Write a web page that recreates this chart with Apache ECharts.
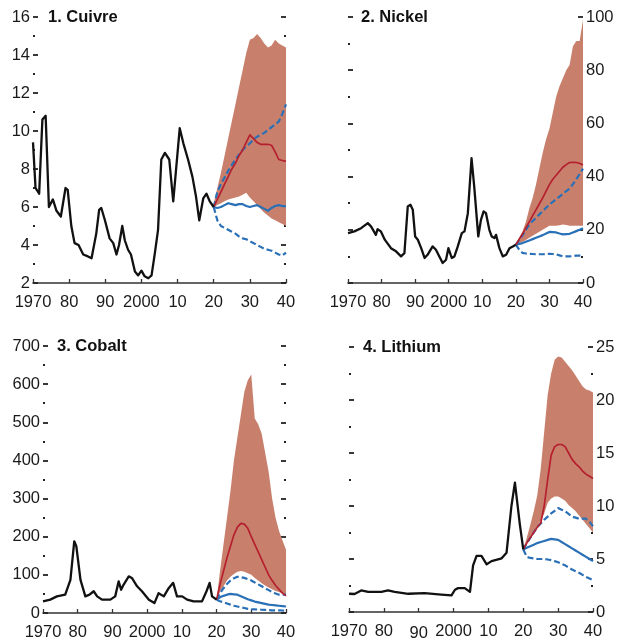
<!DOCTYPE html>
<html><head><meta charset="utf-8">
<script src="https://cdn.jsdelivr.net/npm/echarts@6/dist/echarts.min.js"></script>
<style>html,body{margin:0;padding:0;background:#fff}#c{width:618px;height:642px}</style>
</head><body><div id="c"></div>
<script>
// ---------- DATA ----------
const xTicks = [1970, 1980, 1990, 2000, 2010, 2020, 2030, 2040];
const xTickLabels = ['1970', '80', '90', '2000', '10', '20', '30', '40'];
const titles = ['1. Cuivre', '2. Nickel', '3. Cobalt', '4. Lithium'];
const projYears = [2020,2021,2022,2023,2024,2025,2026,2027,2028,2029,2030,2031,2032,2033,2034,2035,2036,2037,2038,2039,2040];

// Copper (Cuivre)
const copperYears = [1970,1970.7,1971.7,1972.6,1973.5,1974.4,1975.5,1976.5,1977.7,1979.0,1979.6,1980.6,1981.5,1982.6,1983.9,1985.2,1986.2,1987.5,1988.3,1988.9,1989.9,1991.2,1992.2,1993.1,1993.8,1994.7,1995.4,1996.3,1997.1,1998.2,1999.1,2000.0,2000.9,2001.9,2002.8,2003.7,2004.6,2005.5,2006.5,2007.7,2008.8,2009.5,2010.6,2011.6,2012.9,2014.1,2015.1,2016.0,2017.1,2018.0,2018.9,2020];
const copperHist = [9.4,7.0,6.7,10.6,10.8,6.0,6.4,5.8,5.5,7.0,6.9,5.0,4.1,4.0,3.5,3.4,3.3,4.6,5.85,5.95,5.3,4.35,4.1,3.5,4.0,5.0,4.25,3.75,3.5,2.6,2.4,2.65,2.35,2.25,2.4,3.55,4.8,8.5,8.85,8.5,6.3,7.8,10.15,9.35,8.5,7.6,6.55,5.3,6.45,6.7,6.3,6.0];
const copperBandLow  = [6.0,6.1,6.2,6.3,6.4,6.45,6.5,6.55,6.65,6.75,6.5,6.3,6.1,5.9,5.7,5.55,5.4,5.3,5.2,5.1,5.0];
const copperBandHigh = [6.2,7.0,7.8,8.7,9.6,10.5,11.4,12.3,13.2,14.1,14.8,14.9,15.1,14.9,14.6,14.4,14.5,14.8,14.6,14.5,14.4];
const copperRed      = [6.0,6.4,6.8,7.2,7.6,8.0,8.3,8.7,9.0,9.4,9.8,9.6,9.4,9.3,9.3,9.3,9.25,8.9,8.5,8.45,8.4];
const copperBlue     = [6.0,5.95,6.0,6.1,6.2,6.15,6.1,6.15,6.15,6.05,6.0,6.05,6.1,6.0,5.9,5.8,5.95,6.05,6.1,6.05,6.05];
const copperBlueHigh = [6.0,6.8,7.2,7.55,7.9,8.2,8.5,8.75,9.0,9.2,9.35,9.55,9.7,9.8,9.9,10.05,10.2,10.35,10.5,10.9,11.4];
const copperBlueLow  = [6.0,5.3,5.0,4.9,4.8,4.7,4.6,4.45,4.35,4.3,4.2,4.1,4.0,3.9,3.8,3.75,3.7,3.6,3.5,3.45,3.6];

// Nickel
const nickelYears = [1970,1971.9,1973.9,1975.9,1976.9,1978.3,1978.8,1979.8,1981.0,1982.8,1984.3,1985.8,1986.8,1987.8,1988.6,1989.3,1990.0,1990.8,1991.8,1992.8,1993.7,1995.2,1996.2,1997.2,1998.2,1999.2,1999.9,2000.9,2001.7,2002.7,2003.9,2004.7,2005.7,2006.8,2007.6,2008.8,2009.6,2010.4,2011.1,2012.1,2012.8,2013.6,2014.1,2015.1,2016.1,2017.1,2018.1,2019.1,2020];
const nickelHist = [18.75,19.4,20.6,22.5,21.2,18.1,20.2,19.4,16.2,13.1,11.9,10.0,11.2,28.75,29.4,27.5,17.5,16.25,13.1,9.4,10.6,13.75,12.5,10.0,7.5,8.75,13.1,9.4,10.0,13.75,18.75,19.4,26.25,46.9,36.25,17.5,23.75,26.9,26.25,20.0,17.5,16.9,18.1,13.1,10.0,10.6,13.1,13.75,14.4];
const nickelBandLow  = [14.4,15.0,15.5,16.2,17.0,17.8,18.5,19.3,20.0,20.8,21.5,21.5,21.5,21.7,22.0,21.8,21.5,21.5,21.5,21.5,21.5];
const nickelBandHigh = [14.4,17,19.5,23,28,32,37,43,49,54,58,64,70,74,77,80,82,89,91,91,99];
const nickelRed      = [14.4,16.5,18.5,20.8,23.0,25.3,27.5,29.8,32.0,34.5,37.0,39.0,40.5,42.0,43.5,44.5,45.3,45.4,45.3,45.0,44.4];
const nickelBlue     = [14.4,14.7,15.0,15.5,16.0,16.5,17.0,17.5,18.0,18.6,19.2,19.1,19.0,18.6,18.3,18.4,18.5,19.0,19.5,20.0,20.6];
const nickelBlueHigh = [14.4,16.2,18.0,20.0,22.0,23.3,24.5,25.8,27.0,28.3,29.5,30.5,31.5,32.5,33.5,34.5,35.5,37.2,39.0,41.0,43.0];
const nickelBlueLow  = [14.4,12.5,11.3,11.1,11.0,10.9,10.8,10.8,10.8,10.9,11.0,10.9,10.8,10.4,10.0,10.0,10.0,10.1,10.3,10.3,10.2];

// Cobalt
const cobaltYears = [1970,1972.1,1974.0,1976.4,1977.9,1979.0,1979.6,1980.8,1982.2,1983.4,1984.6,1985.6,1987.0,1989.4,1990.8,1991.8,1992.5,1993.2,1994.7,1995.6,1997.1,1998.5,2000.5,2002.1,2003.3,2004.8,2006.2,2007.5,2008.6,2010.1,2011.5,2013.4,2015.8,2017.1,2018.0,2018.7,2020];
const cobaltHist = [30.5,35,43.6,48,87,188,175,87,43.6,48,57,43.6,35,35,43.6,83,61,74,96,92,70,57,35,26,52,43.6,65,79,43.6,43.6,35,30.5,30.5,57,79,43.6,35];
const cobaltBandLow  = [35,55,70,85,95,102,108,110,108,104,100,92,85,78,72,67,62,58,55,51,48];
const cobaltBandHigh = [35,110,180,250,320,400,460,520,580,610,625,510,495,470,420,370,300,250,215,190,166];
const cobaltRed      = [35,75,110,145,175,205,225,235,233,222,200,180,160,140,120,100,85,72,62,52,45];
const cobaltBlue     = [35,41,45,48,50,49,48,44,40,36,33,30,28,26,24,22,21,20,19,18,17];
const cobaltBlueHigh = [35,52,65,76,85,91,95,94,92,89,85,80,75,70,65,60,55,51,48,48,48];
const cobaltBlueLow  = [35,31,28,25,22,19,17,15,13,11,10,9.5,9,8.5,8,7.5,7,7,7,6.5,6];

// Lithium
const lithiumYears = [1970,1971.6,1973.5,1975.5,1979.3,1981.2,1983.1,1987.0,1991.7,1996.5,1999.4,2000.4,2001.3,2003.2,2004.7,2005.6,2006.6,2008.0,2009.5,2010.9,2013.8,2015.2,2016.6,2017.6,2019.0,2020];
const lithiumHist = [1.72,1.7,2.03,1.9,1.9,2.03,1.9,1.72,1.78,1.63,1.56,2.1,2.25,2.25,1.9,4.4,5.3,5.3,4.5,4.8,5.06,5.6,10.0,12.2,8.3,5.9];
const lithiumBandLow  = [5.9,6.5,7.0,7.6,8.1,8.6,9.3,10.3,10.7,10.9,10.9,10.7,10.5,10.1,9.8,9.5,9.1,8.7,8.3,7.9,7.5];
const lithiumBandHigh = [5.9,7.0,8.2,9.5,11.0,13.5,17.0,20.5,22.5,23.8,24.1,24.0,23.6,23.2,22.8,22.3,21.8,21.3,21.0,20.9,20.7];
const lithiumRed      = [5.9,6.5,7.0,7.5,8.0,8.4,10.0,12.5,14.8,15.6,15.8,15.8,15.6,15.0,14.4,14.0,13.7,13.3,13.0,12.8,12.6];
const lithiumBlue     = [5.9,6.05,6.2,6.35,6.5,6.6,6.7,6.8,6.9,6.85,6.8,6.6,6.4,6.2,6.0,5.8,5.6,5.4,5.2,5.0,4.8];
const lithiumBlueHigh = [5.9,6.5,7.0,7.5,8.0,8.35,8.7,9.0,9.3,9.55,9.8,9.65,9.5,9.25,9.0,8.9,8.8,8.8,8.8,8.5,8.1];
const lithiumBlueLow  = [5.9,5.2,5.1,5.05,5.0,5.0,5.0,4.95,4.9,4.8,4.7,4.55,4.4,4.2,4.0,3.85,3.7,3.5,3.3,3.15,3.0];

// Y axis ranges (min, max, interval)
const yMins = [2, 0, 0, 0];
const yMaxs = [16, 100, 700, 25];
const yIntervals = [2, 20, 100, 5];

// ---------- STYLE ----------
const FONT = "'Liberation Sans', Arial, sans-serif";
const FS = 16.5;
const TXT = '#1a1a1a';
const AX = '#333';
const BAND = '#c8806d';
const RED = '#b51f2e';
const BLUE = '#2a70b6';
const BLACK = '#111';

const grids = [
  {left: 33, top: 17, width: 253, height: 266},
  {left: 348, top: 17, width: 235, height: 266},
  {left: 43, top: 346, width: 243, height: 267},
  {left: 349, top: 347, width: 244, height: 266}
];
const labelSide = ['left', 'right', 'left', 'right'];
const titlePos = [48, 361, 57, 363];

const panels = [
  {years: copperYears, hist: copperHist, low: copperBandLow, high: copperBandHigh, red: copperRed, blue: copperBlue, bh: copperBlueHigh, bl: copperBlueLow},
  {years: nickelYears, hist: nickelHist, low: nickelBandLow, high: nickelBandHigh, red: nickelRed, blue: nickelBlue, bh: nickelBlueHigh, bl: nickelBlueLow},
  {years: cobaltYears, hist: cobaltHist, low: cobaltBandLow, high: cobaltBandHigh, red: cobaltRed, blue: cobaltBlue, bh: cobaltBlueHigh, bl: cobaltBlueLow},
  {years: lithiumYears, hist: lithiumHist, low: lithiumBandLow, high: lithiumBandHigh, red: lithiumRed, blue: lithiumBlue, bh: lithiumBlueHigh, bl: lithiumBlueLow}
];

const xAxes = [], yAxes = [], series = [], titleOpts = [];
const zip = (xs, ys) => xs.map((x, k) => [x, ys[k]]);

panels.forEach((p, i) => {
  xAxes.push({
    type: 'value', gridIndex: i, min: 1970, max: 2040, interval: 10,
    axisLine: {show: true, lineStyle: {color: AX, width: 1.6}},
    axisTick: {show: true, inside: true, length: 4, lineStyle: {color: AX, width: 1.3}},
    splitLine: {show: false},
    axisLabel: {
      margin: 10, color: TXT, fontFamily: FONT, fontSize: FS, lineHeight: 18,
      showMinLabel: true, showMaxLabel: true, hideOverlap: false,
      formatter: v => {
        const t = xTickLabels[xTicks.indexOf(v)];
        return (i === 3 && v === 1990) ? '{low|' + t + '}' : t;
      },
      rich: {low: {fontFamily: FONT, fontSize: FS, color: TXT, lineHeight: 18, padding: [5, 0, 0, 0]}}
    }
  });
  ['left', 'right'].forEach(side => {
    yAxes.push({
      type: 'value', gridIndex: i, position: side,
      min: yMins[i], max: yMaxs[i], interval: yIntervals[i],
      axisLine: {show: false}, splitLine: {show: false},
      axisTick: {show: true, inside: true, length: 5, lineStyle: {color: '#222', width: 1.8}},
      minorTick: {show: true, splitNumber: 2, length: 2, lineStyle: {color: '#222', width: 1.8}},
      axisLabel: {show: side === labelSide[i], margin: 3, color: TXT, fontFamily: FONT, fontSize: FS,
                  showMinLabel: true, showMaxLabel: true}
    });
  });
  const ya = i * 2;
  const bandData = projYears.map((y, k) => [y, p.low[k], p.high[k]]);
  series.push({
    type: 'custom', xAxisIndex: i, yAxisIndex: ya, silent: true, z: 1,
    data: bandData, encode: {x: 0, y: [1, 2]},
    renderItem: (params, api) => {
      if (params.dataIndex !== 0) return null;
      const pts = [];
      for (let k = 0; k < bandData.length; k++) pts.push(api.coord([bandData[k][0], bandData[k][2]]));
      for (let k = bandData.length - 1; k >= 0; k--) pts.push(api.coord([bandData[k][0], bandData[k][1]]));
      return {type: 'polygon', shape: {points: pts}, style: {fill: BAND}};
    }
  });
  const line = (data, color, width, dashed, z) => ({
    type: 'line', xAxisIndex: i, yAxisIndex: ya, data, symbol: 'none', z,
    lineStyle: {color, width, type: dashed ? [6, 3] : 'solid', cap: 'butt', join: 'round'},
    animation: false
  });
  series.push(line(zip(projYears, p.bl), BLUE, 2.2, true, 3));
  series.push(line(zip(projYears, p.bh), BLUE, 2.2, true, 3));
  series.push(line(zip(projYears, p.blue), BLUE, 2.2, false, 3));
  series.push(line(zip(projYears, p.red), RED, 1.7, false, 4));
  series.push(line(zip(p.years, p.hist), BLACK, 2.3, false, 5));
  titleOpts.push({
    text: titles[i], left: titlePos[i], top: grids[i].top - 9, padding: 0,
    textStyle: {fontFamily: FONT, fontWeight: 'bold', fontSize: FS, color: '#111', lineHeight: 18}
  });
});

const chart = echarts.init(document.getElementById('c'), null, {renderer: 'canvas'});
chart.setOption({
  animation: false,
  title: titleOpts,
  grid: grids,
  xAxis: xAxes,
  yAxis: yAxes,
  series
});
</script>
</body></html>
